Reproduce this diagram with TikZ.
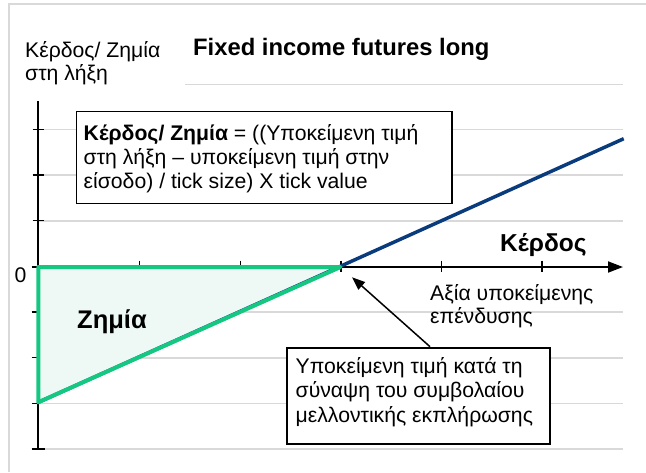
\documentclass[tikz,border=0pt]{standalone}
\usepackage{fontspec}
\setmainfont{Liberation Sans}
\usetikzlibrary{arrows.meta}
\definecolor{gridgray}{RGB}{217,217,217}
\definecolor{greenln}{RGB}{20,200,130}
\definecolor{greenfill}{RGB}{238,248,244}
\definecolor{blueln}{RGB}{10,60,125}
\tikzset{
  gridln/.style={gridgray, line width=1.6pt},
  borderln/.style={gridgray, line width=2pt},
  axisln/.style={black, line width=1.8pt},
  tickln/.style={black, line width=1.4pt},
  boxst/.style={draw=black, fill=white, line width=1.8pt, inner sep=0pt, anchor=north west},
  txt/.style={inner sep=0pt, anchor=base west, font=\fontsize{21.2}{25}\selectfont},
  btxt/.style={inner sep=0pt, anchor=base west, font=\fontsize{23.8}{28}\selectfont\bfseries},
  annot/.style={black, line width=1.5pt, -{Triangle[length=13pt,width=10pt]}},
}
\begin{document}
\begin{tikzpicture}[x=1pt,y=-1pt]
\useasboundingbox (0,0) rectangle (646,472);
% border
\coordinate (bl) at (8.7,472);
\coordinate (tl) at (8.7,3.5);
\coordinate (tr) at (646,3.5);
\draw[borderln] (bl) -- (tl) -- (tr);
% gridlines
\draw[gridln] (185,84.3) -- (622.7,84.3);
\foreach \yy in {129.3,175,220.7,312,357.7,403.3,449}
  \draw[gridln] (38.3,\yy) -- (622.7,\yy);
% axes
\coordinate (ytop) at (38.3,101);
\coordinate (ybot) at (38.3,449);
\coordinate (origin) at (38.3,267);
\coordinate (xend) at (623,267);
\draw[axisln] (ytop) -- (ybot);
\draw[axisln] (31.7,449) -- (45,449);
\draw[axisln, -{Triangle[length=15pt,width=11pt]}] (origin) -- (xend);
\foreach \yy in {129.3,175,220.7}
  \draw[tickln] (32.7,\yy) -- (44.3,\yy);
\foreach \yy in {267,312,357.7,403.3}
  \draw[tickln] (31.7,\yy) -- (38.3,\yy);
\foreach \xx in {139.3,240.5,341,441.5,542}
  \draw[tickln] (\xx,260.7) -- (\xx,272.3);
% payoff
\coordinate (low) at (38.3,402.3);
\coordinate (be) at (340.5,267);
\coordinate (high) at (623.7,138.7);
\fill[greenfill] (origin) -- (be) -- (low) -- cycle;
\draw[blueln, line width=3.5pt] (low) -- (high);
\draw[greenln, line width=4pt, line join=round] (origin) -- (be) -- (low) -- cycle;
% titles
\node[btxt] (title) at (193,55) {Fixed income futures long};
\node[txt] (ylab1) at (25,57) {Κέρδος/ Ζημία};
\node[txt] (ylab2) at (25,80) {στη λήξη};
\node[txt, anchor=base east] (zero) at (26.5,282.5) {0};
\node[btxt, font=\fontsize{24.5}{28}\selectfont\bfseries] (gain) at (500,251.5) {Κέρδος};
\node[btxt, font=\fontsize{25.5}{28}\selectfont\bfseries] (loss) at (77,328) {Ζημία};
\node[txt] (xlab1) at (430,300) {Αξία υποκείμενης};
\node[txt] (xlab2) at (430,323) {επένδυσης};
% formula box
\node[boxst, minimum width=375.3pt, minimum height=92pt] (box1) at (75.5,110.5) {};
\node[txt] (f1) at (83.5,140) {\textbf{Κέρδος/ Ζημία} = ((Υποκείμενη τιμή};
\node[txt] (f2) at (83.5,164.3) {στη λήξη – υποκείμενη τιμή στην};
\node[txt] (f3) at (83.5,188.6) {είσοδο) / tick size) X tick value};
% annotation box
\node[boxst, minimum width=262.9pt, minimum height=96.6pt] (box2) at (286.4,346.7) {};
\node[txt] (a1) at (295.5,373.3) {Υποκείμενη τιμή κατά τη};
\node[txt] (a2) at (295.5,397.8) {σύναψη του συμβολαίου};
\node[txt] (a3) at (295.5,422.3) {μελλοντικής εκπλήρωσης};
\draw[annot, shorten >=15.5pt] ([xshift=143.6pt]box2.north west) -- (be);
\end{tikzpicture}
\end{document}
